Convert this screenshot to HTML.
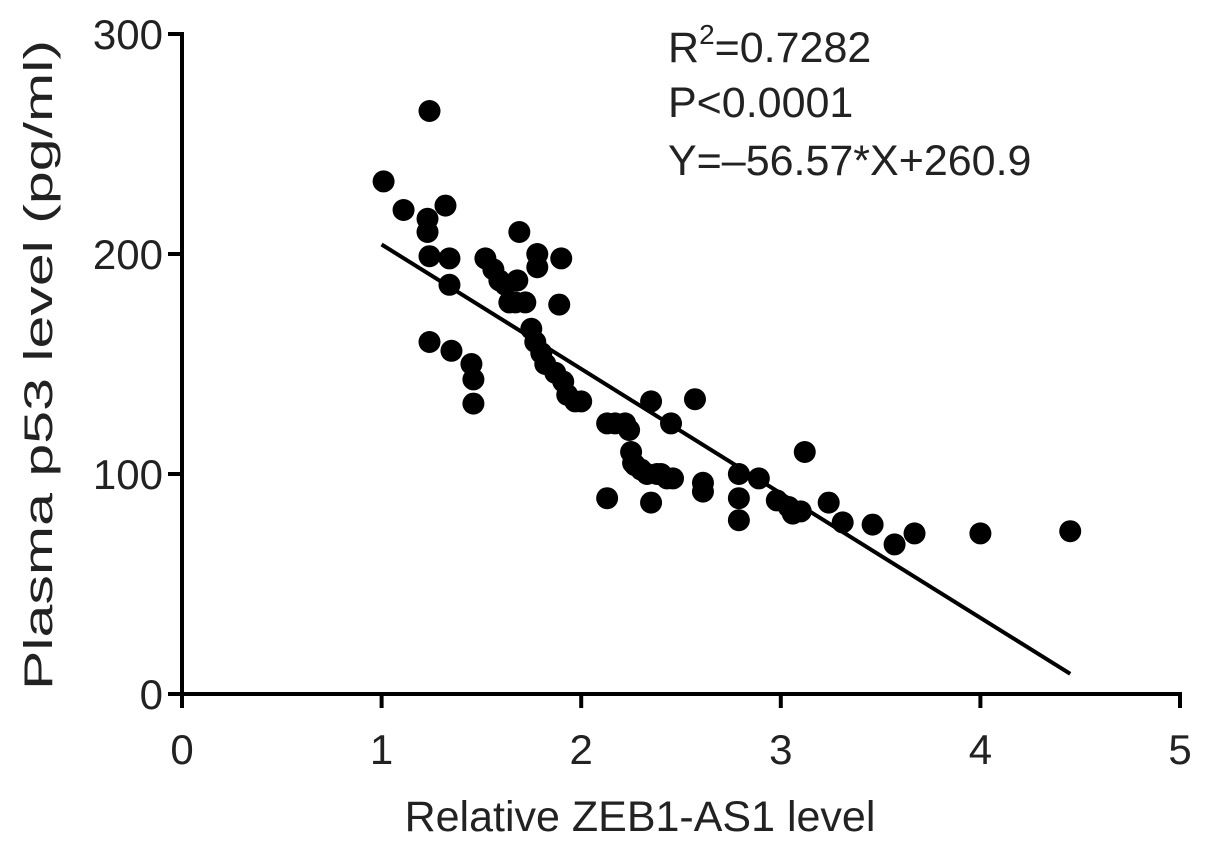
<!DOCTYPE html>
<html><head><meta charset="utf-8"><style>
html,body{margin:0;padding:0;background:#fff}
svg{display:block;font-family:"Liberation Sans",Arial,sans-serif}
</style></head><body>
<svg id="chart" width="1205" height="845" viewBox="0 0 1205 845" xmlns="http://www.w3.org/2000/svg">
<g id="axes"></g>
<g id="dots"></g>
<g id="fit"></g>
<text x="640" y="831" font-size="43" text-anchor="middle" fill="#222">Relative ZEB1-AS1 level</text>
<text transform="translate(52,365) rotate(-90)" font-size="40" text-anchor="middle" textLength="650" lengthAdjust="spacingAndGlyphs" fill="#222">Plasma p53 level (pg/ml)</text>
<g font-size="43" fill="#222">
<text x="668" y="62">R<tspan font-size="28" dy="-18">2</tspan><tspan dy="18">=0.7282</tspan></text>
<text x="668" y="117">P&lt;0.0001</text>
<text x="668" y="175">Y=–56.57*X+260.9</text>
</g>
</svg>
<script>
const xTicks=[0,1,2,3,4,5];
const yTicks=[0,100,200,300];
const xVals=[1.01,1.11,1.24,1.23,1.32,1.23,1.24,1.34,1.34,1.24,1.35,1.45,1.46,1.46,1.52,1.56,1.59,1.62,1.68,1.67,1.72,1.64,1.69,1.75,1.77,1.78,1.78,1.90,1.89,1.80,1.82,1.87,1.91,1.93,1.97,2.00,2.13,2.17,2.22,2.24,2.25,2.27,2.30,2.33,2.38,2.43,2.46,2.35,2.45,2.57,2.61,2.61,2.13,2.35,2.79,2.79,2.79,2.89,2.98,3.04,3.06,3.10,3.12,3.24,3.31,3.46,3.57,3.67,4.00,4.45,2.26,2.40];
const yVals=[233,220,265,216,222,210,199,198,186,160,156,150,143,132,198,193,188,186,188,178,178,178,210,166,160,200,194,198,177,155,150,146,142,136,133,133,123,123,123,120,110,104,102,100,100,98,98,133,123,134,96,92,89,87,100,89,79,98,88,85,82,83,110,87,78,77,68,73,73,74,105,100];
const slope=-56.57, intercept=260.9, fitX=[1.0,4.45];
const NS="http://www.w3.org/2000/svg";
const X0=182,X1=1180,Y0=694,Y1=34;
const sx=v=>X0+(v-0)/(5-0)*(X1-X0);
const sy=v=>Y0-(v-0)/(300-0)*(Y0-Y1);
function mk(tag,attrs,parent){const e=document.createElementNS(NS,tag);for(const k in attrs)e.setAttribute(k,attrs[k]);parent.appendChild(e);return e;}
const axes=document.getElementById('axes');
let a=mk('line',{x1:X0,y1:Y1-2,x2:X0,y2:Y0+2,stroke:'#000','stroke-width':4},axes);


a=mk('line',{x1:X0-2,y1:Y0,x2:X1+2,y2:Y0,stroke:'#000','stroke-width':4},axes);


xTicks.forEach(t=>{
 const l=mk('line',{x1:sx(t),y1:Y0,x2:sx(t),y2:Y0+14,stroke:'#000','stroke-width':4},axes);
 
 
 const tx=mk('text',{x:sx(t),y:Y0+70,'font-size':42,'text-anchor':'middle',fill:'#222'},axes);
 tx.textContent=t;
 
 
});
yTicks.forEach(t=>{
 const l=mk('line',{x1:X0-14,y1:sy(t),x2:X0,y2:sy(t),stroke:'#000','stroke-width':4},axes);
 
 
 const tx=mk('text',{x:X0-19,y:sy(t)+15,'font-size':42,'text-anchor':'end',fill:'#222'},axes);
 tx.textContent=t;
 
 
});
const dots=document.getElementById('dots');
xVals.forEach((v,i)=>{
 const c=mk('circle',{cx:sx(v),cy:sy(yVals[i]),r:11,fill:'#000'},dots);
 
 
});
const fit=document.getElementById('fit');
const fl=mk('line',{x1:sx(fitX[0]),y1:sy(slope*fitX[0]+intercept),x2:sx(fitX[1]),y2:sy(slope*fitX[1]+intercept),stroke:'#000','stroke-width':4},fit);


</script>
</body></html>
